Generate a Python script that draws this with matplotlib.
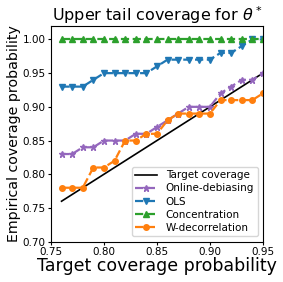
import numpy as np
import matplotlib
matplotlib.use("Agg")
import matplotlib.pyplot as plt

# target coverage levels (x axis)
target = [0.76, 0.77, 0.78, 0.79, 0.80, 0.81, 0.82, 0.83, 0.84, 0.85,
          0.86, 0.87, 0.88, 0.89, 0.90, 0.91, 0.92, 0.93, 0.94, 0.95]

online_debiasing = [0.83, 0.83, 0.84, 0.84, 0.85, 0.85, 0.85, 0.86, 0.86, 0.87,
                    0.88, 0.89, 0.90, 0.90, 0.90, 0.92, 0.93, 0.94, 0.94, 0.95]
ols = [0.93, 0.93, 0.93, 0.94, 0.95, 0.95, 0.95, 0.95, 0.95, 0.96,
       0.97, 0.97, 0.97, 0.97, 0.97, 0.98, 0.98, 0.99, 1.00, 1.00]
concentration = [1.00] * 20
w_decorrelation = [0.78, 0.78, 0.78, 0.81, 0.81, 0.82, 0.85, 0.85, 0.86, 0.86,
                   0.88, 0.89, 0.89, 0.89, 0.89, 0.91, 0.91, 0.91, 0.91, 0.92]

fig = plt.figure(figsize=(2.83, 2.82), dpi=100)
ax = fig.add_axes([0.180, 0.143, 0.749, 0.765])

ax.plot(target, target, color='black', lw=1.2, label='Target coverage')
ax.plot(target, online_debiasing, '--', marker='*', color='tab:purple',
        lw=1.6, ms=4.5, label='Online-debiasing')
ax.plot(target, ols, '--', marker='v', color='tab:blue',
        lw=1.6, ms=4, label='OLS')
ax.plot(target, concentration, '--', marker='^', color='tab:green',
        lw=1.6, ms=4, label='Concentration')
ax.plot(target, w_decorrelation, '--', marker='o', color='tab:orange',
        lw=1.6, ms=4, label='W-decorrelation')

ax.set_xlim(0.75, 0.95)
ax.set_ylim(0.70, 1.02)
ax.set_xticks([0.75, 0.80, 0.85, 0.90, 0.95])
ax.set_yticks([0.70, 0.75, 0.80, 0.85, 0.90, 0.95, 1.00])
ax.tick_params(labelsize=7.5, length=2.5, pad=1.5)
ax.set_xlabel('Target coverage probability', fontsize=12.5, labelpad=0)
ax.set_ylabel('Empirical coverage probability', fontsize=10.2, labelpad=1)
ax.set_title(r'Upper tail coverage for $\theta^*$', fontsize=11.5, pad=3)
ax.legend(loc='lower right', fontsize=7.5, handlelength=2.1, borderpad=0.35,
          labelspacing=0.3)

fig.savefig('out.png', dpi=100)
